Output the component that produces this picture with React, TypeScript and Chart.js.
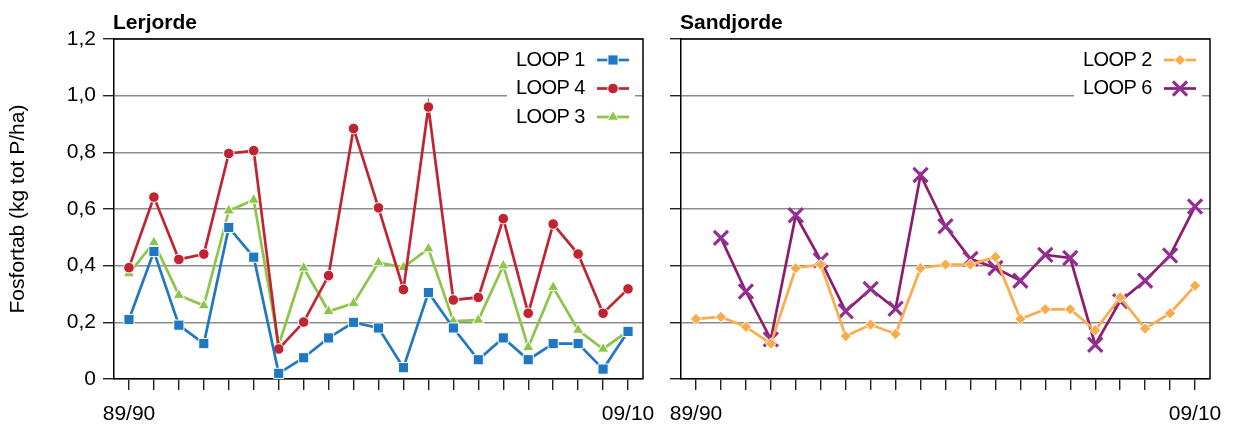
import React, { useEffect, useRef } from 'react';
import { Chart, registerables } from 'chart.js';

Chart.register(...registerables);

const FONT = "'Liberation Sans', Arial, Helvetica, sans-serif";

const seasons = [
  '89/90', '90/91', '91/92', '92/93', '93/94', '94/95', '95/96', '96/97', '97/98', '98/99',
  '99/00', '00/01', '01/02', '02/03', '03/04', '04/05', '05/06', '06/07', '07/08', '08/09', '09/10',
];
const shownSeasonLabels = ['89/90', '09/10'];
const yTicks = [0, 0.2, 0.4, 0.6, 0.8, 1.0, 1.2];

const panelTitles = ['Lerjorde', 'Sandjorde'];
const yAxisTitle = 'Fosfortab (kg tot P/ha)';

// Lerjorde
const loop1 = [0.21, 0.45, 0.19, 0.125, 0.535, 0.43, 0.02, 0.075, 0.145, 0.2, 0.18, 0.04, 0.305, 0.18, 0.068, 0.145, 0.068, 0.125, 0.125, 0.035, 0.168];
const loop4 = [0.393, 0.642, 0.422, 0.441, 0.796, 0.806, 0.106, 0.201, 0.365, 0.884, 0.604, 0.316, 0.96, 0.279, 0.288, 0.566, 0.232, 0.547, 0.441, 0.232, 0.318];
const loop3 = [0.372, 0.482, 0.296, 0.259, 0.594, 0.632, 0.12, 0.392, 0.239, 0.267, 0.411, 0.394, 0.46, 0.204, 0.208, 0.4, 0.112, 0.324, 0.173, 0.106, 0.17];
// Sandjorde
const loop2 = [0.212, 0.219, 0.184, 0.125, 0.391, 0.404, 0.151, 0.192, 0.159, 0.391, 0.404, 0.404, 0.431, 0.212, 0.246, 0.246, 0.172, 0.288, 0.178, 0.232, 0.329];
const loop6 = [null, 0.498, 0.309, 0.14, 0.578, 0.419, 0.239, 0.318, 0.248, 0.72, 0.539, 0.424, 0.392, 0.347, 0.438, 0.427, 0.121, 0.275, 0.347, 0.436, 0.609];

type Series = {
  label: string;
  values: (number | null)[];
  line: string;
  marker: string;
  style: string;
  radius: number;
  markerBorder: string;
  markerBorderWidth: number;
};

const leftSeries: Series[] = [
  { label: 'LOOP 1', values: loop1, line: '#1f78c1', marker: '#1f78c1', style: 'rect', radius: 7.2, markerBorder: '#ffffff', markerBorderWidth: 1 },
  { label: 'LOOP 4', values: loop4, line: '#c22331', marker: '#c22331', style: 'circle', radius: 5.3, markerBorder: '#ffffff', markerBorderWidth: 1 },
  { label: 'LOOP 3', values: loop3, line: '#8cc549', marker: '#8cc549', style: 'triangle', radius: 6.5, markerBorder: '#ffffff', markerBorderWidth: 1 },
];
const rightSeries: Series[] = [
  { label: 'LOOP 2', values: loop2, line: '#fbac4a', marker: '#fbac4a', style: 'rectRot', radius: 5.6, markerBorder: '#ffffff', markerBorderWidth: 1 },
  { label: 'LOOP 6', values: loop6, line: '#8c1d6e', marker: '#922f92', style: 'crossRot', radius: 10, markerBorder: '#922f92', markerBorderWidth: 3.2 },
];

function drawMarker(ctx: CanvasRenderingContext2D, s: Series, x: number, y: number) {
  ctx.save();
  ctx.fillStyle = s.marker;
  ctx.strokeStyle = s.markerBorder;
  ctx.lineWidth = s.markerBorderWidth;
  const r = s.radius;
  ctx.beginPath();
  if (s.style === 'rect') {
    const h = r * Math.SQRT1_2;
    ctx.rect(x - h, y - h, 2 * h, 2 * h);
    ctx.fill();
    ctx.stroke();
  } else if (s.style === 'circle') {
    ctx.arc(x, y, r, 0, Math.PI * 2);
    ctx.fill();
    ctx.stroke();
  } else if (s.style === 'triangle') {
    for (let i = 0; i < 3; i++) {
      const a = -Math.PI / 2 + (i * 2 * Math.PI) / 3;
      const px = x + Math.cos(a) * r;
      const py = y + Math.sin(a) * r;
      if (i === 0) ctx.moveTo(px, py);
      else ctx.lineTo(px, py);
    }
    ctx.closePath();
    ctx.fill();
    ctx.stroke();
  } else if (s.style === 'rectRot') {
    ctx.moveTo(x, y - r);
    ctx.lineTo(x + r, y);
    ctx.lineTo(x, y + r);
    ctx.lineTo(x - r, y);
    ctx.closePath();
    ctx.fill();
    ctx.stroke();
  } else if (s.style === 'crossRot') {
    const d = r * Math.SQRT1_2;
    ctx.moveTo(x - d, y - d);
    ctx.lineTo(x + d, y + d);
    ctx.moveTo(x + d, y - d);
    ctx.lineTo(x - d, y + d);
    ctx.stroke();
  }
  ctx.restore();
}

const decorPlugin = {
  id: 'panelDecor',
  afterDraw(chart: any, _args: any, opts: any) {
    const { ctx, chartArea: a } = chart;
    ctx.save();
    // top and right frame
    ctx.strokeStyle = '#000';
    ctx.lineWidth = 1.5;
    ctx.beginPath();
    ctx.moveTo(a.left, a.top);
    ctx.lineTo(a.right, a.top);
    ctx.lineTo(a.right, a.bottom);
    ctx.stroke();
    // panel title
    ctx.font = `bold 21px ${FONT}`;
    ctx.fillStyle = '#000';
    ctx.textAlign = 'left';
    ctx.textBaseline = 'alphabetic';
    ctx.fillText(opts.title, a.left - 1, 29);
    // legend
    const series: Series[] = opts.series;
    const rowH = 28.5;
    const firstY = a.top + 21;
    ctx.fillStyle = '#fff';
    ctx.fillRect(a.right - 136, a.top + 4, 128, series.length * rowH + 6);
    ctx.font = `20px ${FONT}`;
    try { (ctx as any).letterSpacing = '-0.6px'; } catch (e) { /* ignore */ }
    ctx.textBaseline = 'middle';
    series.forEach((s, i) => {
      const y = firstY + i * rowH;
      ctx.fillStyle = '#000';
      ctx.textAlign = 'left';
      ctx.fillText(s.label, a.right - 127, y);
      ctx.strokeStyle = s.line;
      ctx.lineWidth = 2.7;
      ctx.beginPath();
      ctx.moveTo(a.right - 46, y);
      ctx.lineTo(a.right - 14, y);
      ctx.stroke();
      drawMarker(ctx, s, a.right - 30, y);
    });
    try { (ctx as any).letterSpacing = '0px'; } catch (e) { /* ignore */ }
    ctx.restore();
  },
};

function buildConfig(series: Series[], title: string, isLeft: boolean): any {
  return {
    type: 'line',
    data: {
      datasets: series.map((s) => ({
        label: s.label,
        data: s.values.map((v, i) => ({ x: i, y: v })),
        borderColor: s.line,
        backgroundColor: s.marker,
        borderWidth: 2.7,
        tension: 0,
        pointStyle: s.style,
        pointRadius: s.radius,
        pointBackgroundColor: s.marker,
        pointBorderColor: s.markerBorder,
        pointBorderWidth: s.markerBorderWidth,
        spanGaps: false,
      })),
    },
    options: {
      responsive: false,
      animation: false,
      devicePixelRatio: 1,
      layout: { padding: { top: 39, right: isLeft ? 17 : 23, left: 0, bottom: 0 } },
      plugins: {
        legend: { display: false },
        tooltip: { enabled: false },
        title: { display: false },
        panelDecor: { title, series },
      },
      scales: {
        x: {
          type: 'linear',
          min: -0.6,
          max: seasons.length - 1 + 0.6,
          afterFit: (scale: any) => {
            scale.height = 46;
            scale.paddingLeft = 0;
            scale.paddingRight = 0;
          },
          afterBuildTicks: (scale: any) => {
            scale.ticks = seasons.map((_, i) => ({ value: i }));
          },
          ticks: {
            autoSkip: false,
            maxRotation: 0,
            includeBounds: false,
            stepSize: 1,
            padding: 12,
            color: '#000',
            font: { size: 21, family: FONT },
            callback: (v: number) => {
              const lbl = seasons[Math.round(v)];
              return shownSeasonLabels.includes(lbl) ? lbl : '';
            },
          },
          grid: {
            drawOnChartArea: false,
            drawTicks: true,
            tickLength: 11,
            tickColor: '#222',
            lineWidth: 1.4,
          },
          border: { display: true, color: '#000', width: 1.5 },
        },
        y: {
          type: 'linear',
          min: 0,
          max: 1.2,
          afterFit: (scale: any) => {
            scale.width = isLeft ? 114 : 21;
            scale.paddingTop = 0;
            scale.paddingBottom = 0;
          },
          afterBuildTicks: (scale: any) => {
            scale.ticks = yTicks.map((v) => ({ value: v }));
          },
          ticks: {
            display: isLeft,
            padding: 7,
            color: '#000',
            font: { size: 21, family: FONT },
            callback: (v: number) => (v === 0 ? '0' : v.toFixed(1).replace('.', ',')),
          },
          grid: {
            color: '#8c8c8c',
            lineWidth: 1.4,
            tickLength: 11,
            tickColor: '#222',
            drawTicks: true,
          },
          border: { display: true, color: '#000', width: 1.5 },
          title: {
            display: isLeft,
            text: yAxisTitle,
            color: '#000',
            font: { size: 21, family: FONT },
            padding: { top: 6, bottom: 0 },
          },
        },
      },
    },
    plugins: [decorPlugin],
  };
}

function Panel({ series, title, isLeft, left, width }: { series: Series[]; title: string; isLeft: boolean; left: number; width: number }) {
  const ref = useRef<HTMLCanvasElement | null>(null);
  useEffect(() => {
    if (!ref.current) return;
    const chart = new Chart(ref.current, buildConfig(series, title, isLeft));
    return () => chart.destroy();
  }, []);
  return (
    <canvas
      ref={ref}
      width={width}
      height={425}
      style={{ position: 'absolute', left, top: 0, width, height: 425 }}
    />
  );
}

export default function App() {
  return (
    <div style={{ position: 'absolute', left: 0, top: 0, width: 1233, height: 425, background: '#fff' }}>
      <Panel series={leftSeries} title={panelTitles[0]} isLeft={true} left={0} width={660} />
      <Panel series={rightSeries} title={panelTitles[1]} isLeft={false} left={660} width={573} />
    </div>
  );
}
